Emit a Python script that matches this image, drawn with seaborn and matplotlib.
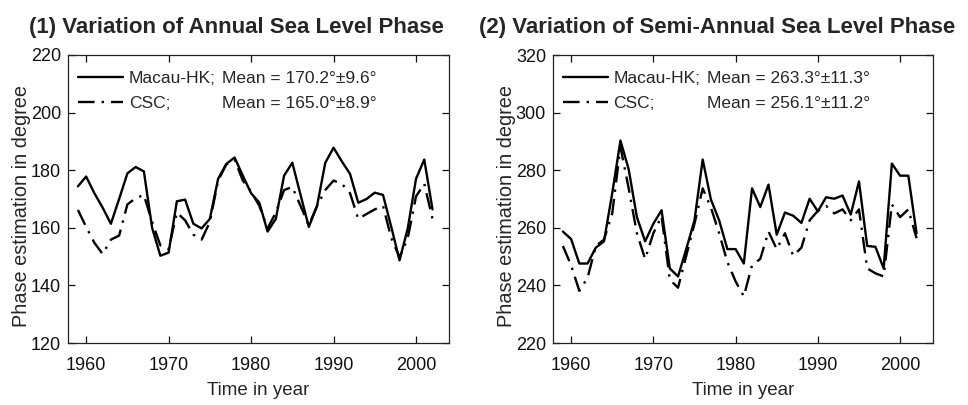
import numpy as np
import pandas as pd
import matplotlib
matplotlib.use("Agg")
import matplotlib.pyplot as plt
import seaborn as sns

years = list(range(1959, 2003))

annual_macau = [174.4, 177.8, 172.0, 167.0, 161.4, 170.0, 178.9, 181.1, 179.6, 160.0,
                150.3, 151.4, 169.2, 169.8, 161.4, 159.8, 163.1, 177.0, 182.2, 184.4,
                178.1, 172.0, 168.7, 158.7, 163.1, 178.1, 182.6, 171.4, 160.3, 167.6,
                182.6, 187.8, 183.1, 178.7, 168.7, 170.0, 172.2, 171.4, 160.3, 148.7,
                159.8, 177.0, 183.7, 166.4]
annual_csc = [166.2, 160.3, 154.8, 150.9, 155.9, 157.3, 168.1, 170.3, 171.4, 162.0,
              153.9, 152.6, 165.3, 162.6, 157.6, 155.9, 162.0, 176.4, 182.0, 183.7,
              176.4, 172.6, 167.6, 159.8, 165.3, 173.1, 174.2, 167.6, 160.9, 167.6,
              173.1, 176.4, 175.3, 172.0, 163.1, 164.8, 166.4, 167.6, 156.4, 149.8,
              156.4, 170.9, 175.3, 163.1]

semi_macau = [258.7, 256.1, 247.6, 247.6, 253.1, 255.3, 272.0, 290.3, 280.3, 263.7,
              255.3, 261.4, 266.1, 245.9, 243.1, 252.6, 262.6, 283.7, 269.8, 262.6,
              252.6, 252.6, 247.6, 273.7, 267.2, 275.0, 257.6, 265.3, 264.2, 261.7,
              270.1, 265.7, 270.6, 270.1, 271.2, 264.6, 276.1, 253.7, 253.4, 245.9,
              282.3, 278.1, 278.1, 258.1]
semi_csc = [253.7, 247.0, 238.1, 242.6, 253.7, 255.9, 265.0, 288.1, 273.7, 258.1,
            249.2, 258.1, 264.0, 242.0, 239.2, 250.3, 261.4, 273.7, 267.0, 258.1,
            248.1, 241.4, 236.2, 247.0, 249.2, 258.7, 252.6, 258.1, 250.3, 253.1,
            262.6, 265.9, 267.6, 265.0, 266.4, 262.6, 266.4, 245.9, 244.2, 243.1,
            268.1, 263.7, 266.4, 256.4]

stations = ["Macau-HK", "CSC"]
annual_means = ["Mean = 170.2°±9.6°", "Mean = 165.0°±8.9°"]
semi_means = ["Mean = 263.3°±11.3°", "Mean = 256.1°±11.2°"]

titles = ["(1) Variation of Annual Sea Level Phase",
          "(2) Variation of Semi-Annual Sea Level Phase"]
x_ticks = [1960, 1970, 1980, 1990, 2000]
annual_yticks = [120, 140, 160, 180, 200, 220]
semi_yticks = [220, 240, 260, 280, 300, 320]

sns.set_style("ticks")
plt.rcParams["font.family"] = ["Liberation Sans", "DejaVu Sans"]
plt.rcParams["axes.edgecolor"] = "#222222"
plt.rcParams["axes.linewidth"] = 0.9

DASHDOT = (7, 3, 1, 3)
LW = 1.7


def long_frame(a, b):
    return pd.DataFrame({
        "year": years * 2,
        "phase": a + b,
        "station": [stations[0]] * len(years) + [stations[1]] * len(years),
    })


fig = plt.figure(figsize=(9.68, 4.05), dpi=100)
W, H = 968, 405
top_px, bot_px = 55, 343
ax1 = fig.add_axes([68 / W, (H - bot_px) / H, 381 / W, (bot_px - top_px) / H])
ax2 = fig.add_axes([553 / W, (H - bot_px) / H, 380 / W, (bot_px - top_px) / H])

panels = [
    (ax1, annual_macau, annual_csc, annual_yticks, annual_means, titles[0], 29),
    (ax2, semi_macau, semi_csc, semi_yticks, semi_means, titles[1], 479),
]

for ax, a, b, yt, means, title, tx in panels:
    df = long_frame(a, b)
    sns.lineplot(data=df, x="year", y="phase", style="station",
                 style_order=stations,
                 dashes={stations[0]: "", stations[1]: DASHDOT},
                 color="black", linewidth=LW, ax=ax, legend=False)
    ax.set_xlim(1957.8, 2004.0)
    ax.set_ylim(yt[0], yt[-1])
    ax.set_xticks(x_ticks)
    ax.set_yticks(yt)
    ax.tick_params(direction="in", length=5, width=0.9, top=True, right=True,
                   labelsize=13, colors="#111111")
    ax.tick_params(axis="x", pad=10)
    ax.tick_params(axis="y", pad=5)
    for s in ax.spines.values():
        s.set_visible(True)
    ax.set_xlabel("Time in year", fontsize=13.5)
    ax.set_ylabel("Phase estimation in degree", fontsize=14.3)
    ax.xaxis.set_label_coords(0.5, -0.135)
    ax.yaxis.set_label_coords(-0.098, 0.475)

    handles = [plt.Line2D([], [], color="black", lw=LW),
               plt.Line2D([], [], color="black", lw=LW, dashes=DASHDOT)]
    leg = ax.legend(handles, [s + ";" for s in stations], loc="upper left",
                    frameon=False, fontsize=12.5, handlelength=2.6,
                    handletextpad=0.3, labelspacing=0.55,
                    borderpad=0.0, borderaxespad=0.0,
                    bbox_to_anchor=(0.027, 0.945))
    fig.canvas.draw()
    inv = ax.transAxes.inverted()
    for t, m in zip(leg.get_texts(), means):
        bb = t.get_window_extent()
        cx, cy = inv.transform(((bb.x0 + bb.x1) / 2, (bb.y0 + bb.y1) / 2))
        ax.text(0.404, cy, m, transform=ax.transAxes, fontsize=12.5,
                va="center", ha="left")

    fig.text(tx / W, 1 - 33 / H, title, fontsize=16, fontweight="bold",
             va="baseline", ha="left")

fig.savefig("out.png", dpi=100)
